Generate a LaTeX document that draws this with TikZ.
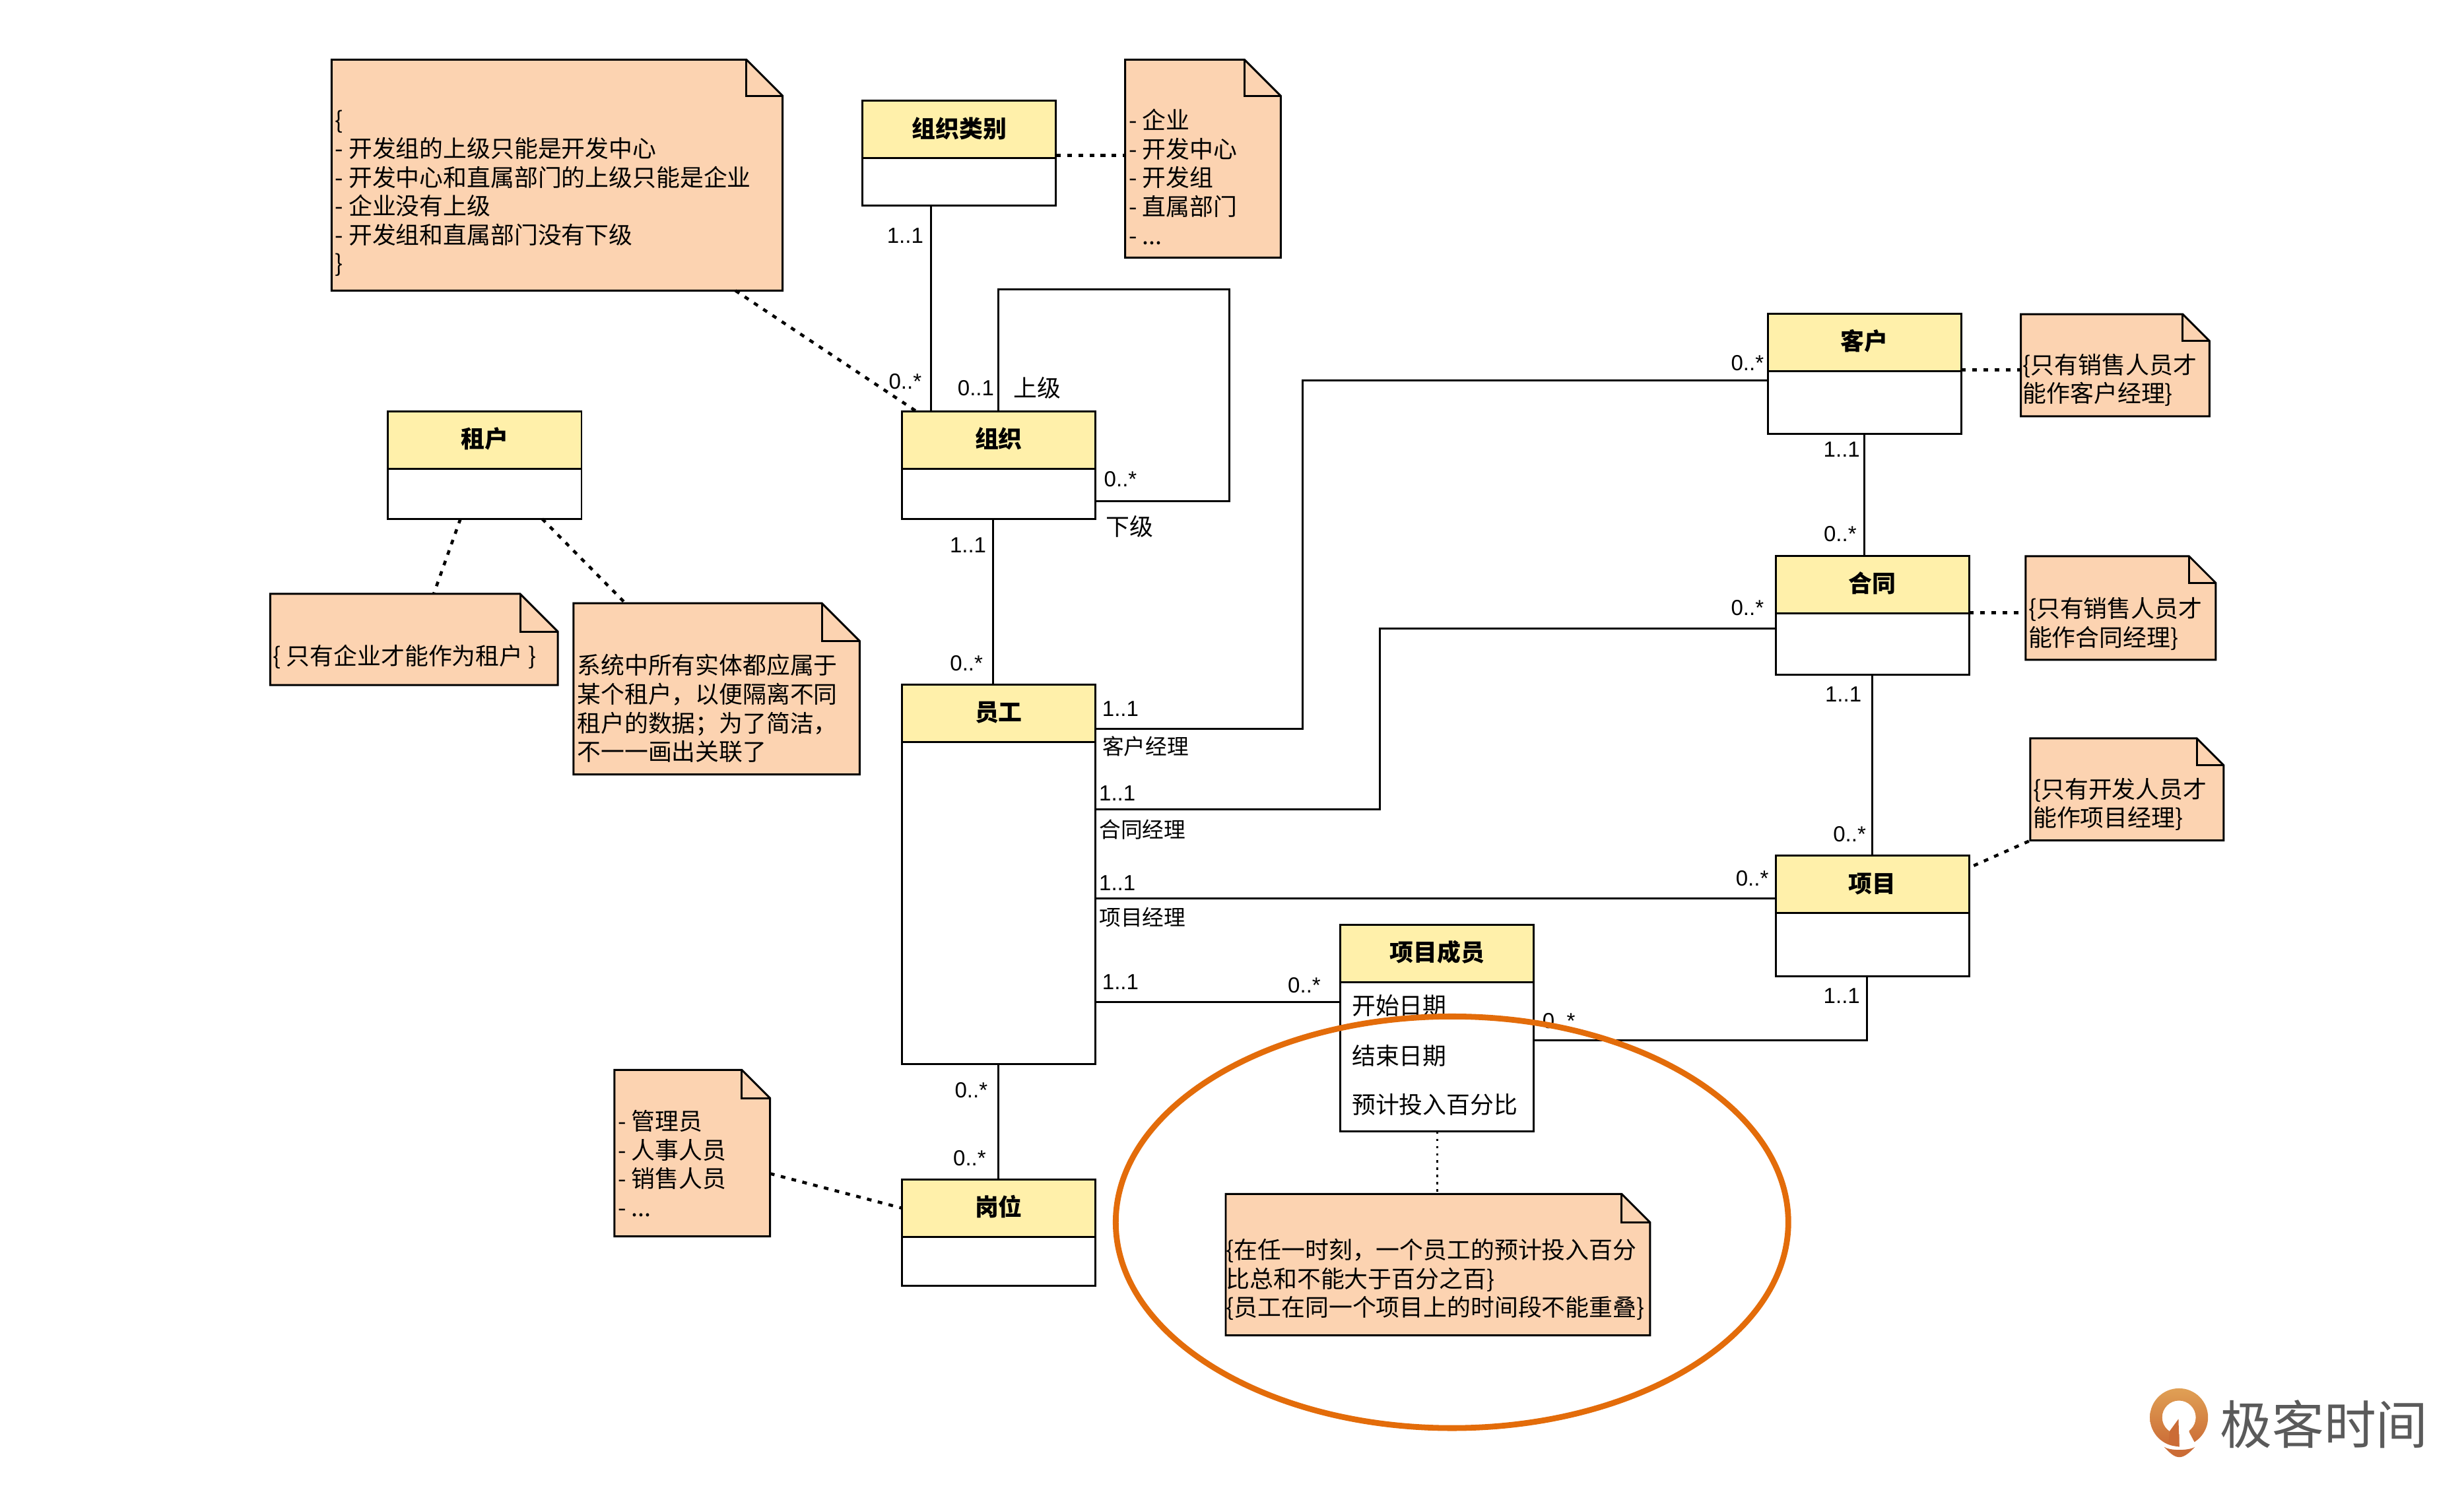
\documentclass[tikz,border=0pt]{standalone}
\usepackage{fontspec}
\setmainfont{Noto Sans CJK SC}
\newfontfamily\latinfont{Liberation Sans}
\usetikzlibrary{calc,fit,positioning,shapes.geometric}

\definecolor{headfill}{HTML}{FFF0AA}
\definecolor{notefill}{HTML}{FCD3B1}
\definecolor{ringorange}{HTML}{E36C0A}
\definecolor{logogrey}{HTML}{5A5A5A}
\definecolor{logotop}{HTML}{E0A055}
\definecolor{logobot}{HTML}{CB6C36}

\tikzset{
  classhead/.style={draw,fill=headfill,line width=0.85pt,outer sep=0pt,inner sep=0pt,
    minimum width=2.93cm,minimum height=0.87cm,text height=8.5pt,text depth=1.8pt,
    font=\fontsize{10.2pt}{12.4pt}\selectfont\bfseries},
  classbody/.style={draw,fill=white,line width=0.85pt,outer sep=0pt,inner sep=0pt,minimum width=2.93cm},
  assoc/.style={line width=0.85pt},
  notelink/.style={line width=1.3pt,dash pattern=on 2pt off 2.8pt},
  notebox/.style={inner sep=0pt,outer sep=0pt,append after command={\pgfextra{
    \draw[fill=notefill,line width=0.85pt] (\tikzlastnode.north west)
      -- ($(\tikzlastnode.north east)+(-#1,0)$) -- ($(\tikzlastnode.north east)+(0,#1)$)
      -- (\tikzlastnode.south east) -- (\tikzlastnode.south west) -- cycle;
    \draw[line width=0.85pt] ($(\tikzlastnode.north east)+(-#1,0)$)
      -- ($(\tikzlastnode.north east)+(-#1,#1)$) -- ($(\tikzlastnode.north east)+(0,#1)$);}}},
  notetext/.style={anchor=west,align=left,inner sep=0pt,font=\fontsize{10.2pt}{12.4pt}\selectfont},
  attr/.style={anchor=west,inner sep=0pt,font=\fontsize{10.2pt}{12.4pt}\selectfont},
  role/.style={inner sep=0pt,font=\fontsize{9.3pt}{11pt}\selectfont},
  selfrole/.style={inner sep=0pt,font=\fontsize{10.2pt}{12pt}\selectfont},
  multi/.style={inner sep=0pt,font=\latinfont\fontsize{9.4pt}{11pt}\selectfont},
}

\begin{document}
\begin{tikzpicture}[x=0.023807cm,y=-0.023807cm,line join=miter]
  \def\uu{0.023807}
  \useasboundingbox (0,0) rectangle (1568,949.3);
  % classes
  \node[classhead] (leibie) at (610.5,82.5) {组织类别};
  \node[classbody,below=0pt of leibie,minimum height=30*\uu cm] (leibieb) {};
  \node[classhead] (zuzhi) at (635.5,280) {组织};
  \node[classbody,below=0pt of zuzhi,minimum height=32*\uu cm] (zuzhib) {};
  \node[classhead] (zuhu) at (308.5,280) {租户};
  \node[classbody,below=0pt of zuhu,minimum height=32*\uu cm] (zuhub) {};
  \node[classhead] (yuangong) at (635.5,454) {员工};
  \node[classbody,below=0pt of yuangong,minimum height=205*\uu cm] (yuangongb) {};
  \node[classhead] (gangwei) at (635.5,769) {岗位};
  \node[classbody,below=0pt of gangwei,minimum height=31*\uu cm] (gangweib) {};
  \node[classhead] (chengyuan) at (914.5,607) {项目成员};
  \node[classbody,below=0pt of chengyuan,minimum height=95*\uu cm] (chengyuanb) {};
  \node[classhead] (kehu) at (1186.5,218) {客户};
  \node[classbody,below=0pt of kehu,minimum height=40*\uu cm] (kehub) {};
  \node[classhead] (hetong) at (1191.5,372) {合同};
  \node[classbody,below=0pt of hetong,minimum height=39*\uu cm] (hetongb) {};
  \node[classhead] (xiangmu) at (1191.5,563) {项目};
  \node[classbody,below=0pt of xiangmu,minimum height=40*\uu cm] (xiangmub) {};
  % attributes
  \node[attr] (attrstart) at (860,640) {开始日期};
  \node[attr] (attrend) at (860,672) {结束日期};
  \node[attr] (attrpct) at (860,703) {预计投入百分比};
  % notes
  \node[notebox=23,fit={(211,38)(498,185)}] (noterule) {};
  \node[notetext] (noteruletxt) at (213,123) {\{\\- 开发组的上级只能是开发中心\\- 开发中心和直属部门的上级只能是企业\\- 企业没有上级\\- 开发组和直属部门没有下级\\\}};
  \node[notebox=23,fit={(716,38)(815,164)}] (notetype) {};
  \node[notetext] (notetypetxt) at (718,112.5) {- 企业\\- 开发中心\\- 开发组\\- 直属部门\\- ...};
  \node[notebox=24,fit={(172,378)(355,436)}] (notetenant) {};
  \node[notetext] (notetenanttxt) at (173.5,418) {\{ 只有企业才能作为租户 \}};
  \node[notebox=24,fit={(365,384)(547,493)}] (noteall) {};
  \node[notetext] (notealltxt) at (367,451) {系统中所有实体都应属于\\某个租户，以便隔离不同\\租户的数据；为了简洁，\\不一一画出关联了};
  \node[notebox=17,fit={(1286,200)(1406,265)}] (notekehu) {};
  \node[notetext] (notekehutxt) at (1287,242) {\{只有销售人员才\\能作客户经理\}};
  \node[notebox=17,fit={(1289,354)(1410,420)}] (notehetong) {};
  \node[notetext] (notehetongtxt) at (1290.5,397) {\{只有销售人员才\\能作合同经理\}};
  \node[notebox=17,fit={(1292,470)(1415,535)}] (notexiangmu) {};
  \node[notetext] (notexiangmutxt) at (1293.5,512) {\{只有开发人员才\\能作项目经理\}};
  \node[notebox=18,fit={(391,681)(490,787)}] (notegangwei) {};
  \node[notetext] (notegangweitxt) at (393,740.5) {- 管理员\\- 人事人员\\- 销售人员\\- ...};
  \node[notebox=18,fit={(780,760)(1050,850)}] (notemember) {};
  \node[notetext] (notemembertxt) at (780,814.5) {\{在任一时刻，一个员工的预计投入百分\\比总和不能大于百分之百\}\\\{员工在同一个项目上的时间段不能重叠\}};
  % associations
  \draw[assoc] (leibieb.south -| 592.5,0) -- (592.5,0 |- zuzhi.north);
  \draw[assoc] (zuzhi.north) -- (635.5,184) -- (782.5,184) -- (782.5,319) -- (zuzhib.east |- 0,319);
  \draw[assoc] (zuzhib.south -| 632,0) -- (632,0 |- yuangong.north);
  \draw[assoc] (yuangongb.east |- 0,464) -- (829,464) -- (829,242) -- (kehub.west |- 0,242);
  \draw[assoc] (yuangongb.east |- 0,515) -- (878,515) -- (878,400) -- (hetongb.west |- 0,400);
  \draw[assoc] (yuangongb.east |- 0,572) -- (xiangmu.west |- 0,572);
  \draw[assoc] (yuangongb.east |- 0,638) -- (chengyuanb.west |- 0,638);
  \draw[assoc] (chengyuanb.east |- 0,662) -- (1188,662) -- (1188,0 |- xiangmub.south);
  \draw[assoc] (yuangongb.south) -- (gangwei.north);
  \draw[assoc] (kehub.south) -- (hetong.north -| kehub.south);
  \draw[assoc] (hetongb.south) -- (xiangmu.north);
  % dotted links to notes
  \draw[notelink] (noterule.south -| 468,0) -- (zuzhi.north -| 583,0);
  \draw[notelink] (leibie.east |- 0,99) -- (notetype.west |- 0,99);
  \draw[notelink] (zuhub.south -| 293,0) -- (notetenant.north -| 276,0);
  \draw[notelink] (zuhub.south -| 345,0) -- (noteall.north -| 398,0);
  \draw[notelink] (kehu.east |- 0,235.5) -- (notekehu.west |- 0,235.5);
  \draw[notelink] (hetong.east |- 0,390) -- (notehetong.west |- 0,390);
  \draw[notelink] (1256,551) -- (notexiangmu.south west);
  \draw[notelink] (notegangwei.east |- 0,747) -- (gangwei.west);
  \draw[line width=0.8pt,dash pattern=on 1pt off 2.1pt] (chengyuanb.south) -- (notemember.north -| chengyuanb.south);
  % multiplicities and roles
  \node[multi] (m1) at (576,150) {1..1};
  \node[multi] (m2) at (576,243) {0..*};
  \node[multi] (m3) at (621,247) {0..1};
  \node[selfrole] (r1) at (660,247) {上级};
  \node[multi] (m4) at (713,305) {0..*};
  \node[selfrole] (r2) at (719,335) {下级};
  \node[multi] (m5) at (616,347) {1..1};
  \node[multi] (m6) at (615,422) {0..*};
  \node[multi] (m7) at (1112,231) {0..*};
  \node[multi] (m8) at (1172,286) {1..1};
  \node[multi] (m9) at (1171,340) {0..*};
  \node[multi] (m10) at (1112,387) {0..*};
  \node[multi] (m11) at (1173,442) {1..1};
  \node[multi] (m12) at (1177,531) {0..*};
  \node[multi] (m13) at (1115,559) {0..*};
  \node[multi] (m14) at (713,451) {1..1};
  \node[role] (r3) at (729,475) {客户经理};
  \node[multi] (m15) at (711,505) {1..1};
  \node[role] (r4) at (727,528) {合同经理};
  \node[multi] (m16) at (711,562) {1..1};
  \node[role] (r5) at (727,584) {项目经理};
  \node[multi] (m17) at (713,625) {1..1};
  \node[multi] (m18) at (830,627) {0..*};
  \node[multi] (m19) at (992,650) {0..*};
  \node[multi] (m20) at (1172,634) {1..1};
  \node[multi] (m21) at (618,694) {0..*};
  \node[multi] (m22) at (617,737) {0..*};
  % highlight ring
  \node[ellipse,draw=ringorange,line width=2.5pt,minimum width=428*\uu cm,minimum height=262*\uu cm,inner sep=0pt] (ring) at (924,778) {};
  % logo
  \shade[top color=logotop,bottom color=logobot,even odd rule]
    (1386.6,902.2) circle[radius=18.5] (1386.6,902.2) circle[radius=10.7];
  \fill[white] (1386.8,900) -- (1386.8,922) -- (1397.5,920) -- (1393.1,911.7) -- (1393.1,905) -- cycle;
  \fill[logobot] (1380.6,911) -- (1386.3,903.2) -- (1386.8,921) -- (1380,919) -- cycle;
  \fill[logobot] (1377.1,921) .. controls (1381,923.5) and (1392.5,923.5) .. (1396.8,921)
    .. controls (1393,925) and (1390,927.5) .. (1386.8,927.5) .. controls (1383.5,927.5) and (1381,925) .. cycle;
  \node[text=logogrey,font=\fontsize{22.4pt}{24pt}\selectfont,inner sep=0pt] (logotext) at (1479,906.5) {极客时间};
\end{tikzpicture}
\end{document}
